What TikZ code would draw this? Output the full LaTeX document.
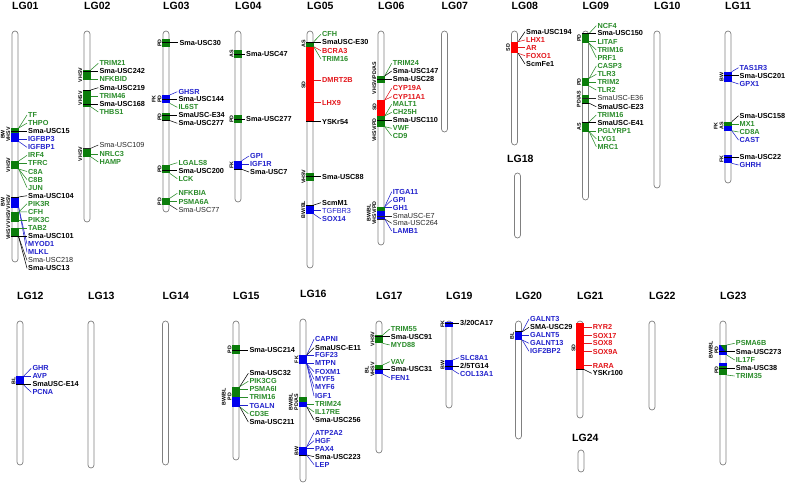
\documentclass[tikz,border=0pt]{standalone}
\usepackage{fontspec}
\setmainfont{Liberation Sans}
\definecolor{LGreen}{HTML}{2A8C2A}
\definecolor{BGreen}{HTML}{0B7D0B}
\definecolor{LBlue}{HTML}{2222CC}
\definecolor{BBlue}{HTML}{0000EE}
\definecolor{LRed}{HTML}{E3171C}
\definecolor{BRed}{HTML}{FF0000}
\definecolor{BarGray}{HTML}{808080}
\tikzset{
  barsh/.style={draw=BarGray, fill=white, line width=0.7pt, rounded corners=3pt, minimum width=6pt, inner sep=0pt, rectangle},
  title/.style={anchor=west, inner sep=0pt, font=\fontsize{10.5}{12}\selectfont\bfseries},
  lab/.style={anchor=west, inner sep=1pt, font=\fontsize{7.3}{8}\selectfont\bfseries},
  link/.style={line width=0.55pt},
  sidel/.style={rotate=90, anchor=south, inner sep=0.3pt, align=center, font=\fontsize{5.3}{5.6}\selectfont\bfseries},
  cg/.style={color=LGreen}, cb/.style={color=LBlue}, cr/.style={color=LRed}, ck/.style={color=black},
  ckn/.style={color=black!85, font=\fontsize{7.3}{8}\selectfont\mdseries},
  cbn/.style={color=LBlue, font=\fontsize{7.3}{8}\selectfont\mdseries},
}
\newcommand\chrom[6]{%
  \pgfmathsetmacro\hh{#4-#3}\pgfmathsetmacro\my{(#3+#4)/2}%
  \node[barsh, minimum height=\hh pt] (#1) at (#2,\my) {};
  \node[title] (#1t) at (#5,#6) {#1};}
\newcommand\blk[4]{%
  \pgfmathsetmacro\bx{#1+3.7}\pgfmathsetmacro\blx{#1-3.7}%
  \def\btop{#2}\def\bbot{#3}%
  \fill[#4] (\blx,#2) rectangle (\bx,#3);}
\newcommand\blp[4]{\fill[#4] ({#1-3.7},#2) rectangle ({#1+3.7},#3);}
\newcount\sidecount
\newcommand\sidelab[3]{\global\advance\sidecount by 1
  \node[sidel] (side\the\sidecount) at ({#1-4.2},#2) {#3};}
\newcommand\glab[5]{%
  \pgfmathsetmacro\sy{min(max(#3,\btop),\bbot)}%
  \node[lab,#4] (#1) at ({#2-1},#3) {#5};
  \coordinate (#1s) at (\bx,\sy);
  \draw[link,#4] (#1s) -- (#1.west);}
\newcommand\klab[5]{%
  \pgfmathsetmacro\sy{min(max(#3,\btop),\bbot)}%
  \pgfmathtruncatemacro\crs{abs(#3-\sy)<4.5 ? 1 : 0}%
  \node[lab,#4] (#1) at ({#2-1},#3) {#5};
  \coordinate (#1s) at (\bx,\sy);
  \coordinate (#1c) at (\blx,\sy);
  \ifnum\crs=1 \draw[link,#4] (#1c) -- (#1s);\fi
  \draw[link,#4] (#1s) -- (#1.west);}
\begin{document}
\begin{tikzpicture}[x=1pt,y=-1pt]
\fill[white] (0,0) rectangle (787,485);
\useasboundingbox (0,0) rectangle (787,485);
% chromosomes
\chrom{LG01}{15}{31}{262}{12}{6}
\chrom{LG02}{87}{31}{222}{84}{6}
\chrom{LG03}{166}{31}{212}{163}{6}
\chrom{LG04}{238}{31}{202}{235}{6}
\chrom{LG05}{310}{31}{268}{307}{6}
\chrom{LG06}{381}{31}{245}{378}{6}
\chrom{LG07}{444.5}{31}{132}{441.5}{6}
\chrom{LG08}{514.5}{31}{145}{511.5}{6}
\chrom{LG09}{585.5}{31}{200}{582.5}{6}
\chrom{LG10}{657}{31}{188}{654}{6}
\chrom{LG11}{728}{31}{183}{725}{6}
\chrom{LG18}{517.5}{173}{238}{507}{159}
\chrom{LG12}{20}{321}{465}{17}{296}
\chrom{LG13}{91}{321}{468}{88}{296}
\chrom{LG14}{165.5}{321}{465}{162.5}{296}
\chrom{LG15}{236}{321}{460}{233}{296}
\chrom{LG16}{303}{319}{482}{300}{294}
\chrom{LG17}{379}{321}{453}{376}{295.5}
\chrom{LG19}{449}{321}{408}{446}{295.5}
\chrom{LG20}{518.5}{321}{439}{515.5}{295.5}
\chrom{LG21}{580}{321}{418}{577}{296}
\chrom{LG22}{652}{321}{410}{649}{296}
\chrom{LG23}{723}{321}{465}{720}{296}
\chrom{LG24}{581}{450}{472}{572}{438}
% LG01
\blk{15}{128}{141.5}{BBlue}\blp{15}{128}{133}{BGreen}\sidelab{15}{134.5}{BW\\VHSV}
\glab{a1}{28}{115}{cg}{TF}
\glab{a2}{28}{123.1}{cg}{THPO}
\klab{a3}{28}{131.1}{ck}{Sma-USC15}
\glab{a4}{28}{139.2}{cb}{IGFBP3}
\glab{a5}{28}{147.3}{cb}{IGFBP1}
\blk{15}{161}{169}{BGreen}\sidelab{15}{165}{VHSV}
\glab{a6}{28}{155.4}{cg}{IRF4}
\glab{a7}{28}{163.4}{cg}{TFRC}
\glab{a8}{28}{171.5}{cg}{C8A}
\glab{a9}{28}{179.6}{cg}{C8B}
\glab{a10}{28}{187.6}{cg}{JUN}
\blk{15}{197}{207.5}{BBlue}\sidelab{15}{202}{BW\\VHSV}
\klab{a11}{28}{195.7}{ck}{Sma-USC104}
\glab{a17}{28}{244.1}{cb}{MYOD1}
\glab{a18}{28}{252.2}{cb}{MLKL}
\blk{15}{212}{222}{BGreen}\sidelab{15}{217}{VHSV}
\glab{a12}{28}{203.8}{cg}{PIK3R}
\glab{a13}{28}{211.8}{cg}{CFH}
\glab{a14}{28}{219.9}{cg}{PIK3C}
\blk{15}{228}{237}{BGreen}\sidelab{15}{232.5}{VHSV}
\glab{a15}{28}{228}{cg}{TAB2}
\klab{a16}{28}{236.1}{ck}{Sma-USC101}
\klab{a19}{28}{260.3}{ckn}{Sma-USC218}
\klab{a20}{28}{268.3}{ck}{Sma-USC13}
% LG02
\blk{87}{70}{80}{BGreen}\sidelab{87}{75}{VHSV}
\glab{b1}{99.3}{63.3}{cg}{TRIM21}
\klab{b2}{99.3}{71.3}{ck}{Sma-USC242}
\glab{b3}{99.3}{79.3}{cg}{NFKBID}
\blk{87}{90}{106.7}{BGreen}\sidelab{87}{98.3}{VHSV}
\klab{b4}{99.3}{87.7}{ck}{Sma-USC219}
\glab{b5}{99.3}{96}{cg}{TRIM46}
\klab{b6}{99.3}{104}{ck}{Sma-USC168}
\glab{b7}{99.3}{112}{cg}{THBS1}
\blk{87}{148.3}{156.7}{BGreen}\sidelab{87}{154}{VHSV}
\klab{b8}{99.3}{145}{ckn}{Sma-USC109}
\glab{b9}{99.3}{154}{cg}{NRLC3}
\glab{b10}{99.3}{162}{cg}{HAMP}
% LG03
\blk{166}{39.3}{46.7}{BGreen}\sidelab{166}{43}{PD}
\klab{c1}{179.3}{42.7}{ck}{Sma-USC30}
\blk{166}{95}{103.3}{BBlue}\sidelab{166}{99}{FK\\PD}
\glab{c2}{178.3}{91.7}{cb}{GHSR}
\klab{c3}{178.3}{99.3}{ck}{Sma-USC144}
\glab{c4}{178.3}{107.3}{cg}{IL6ST}
\blk{166}{113.3}{120.5}{BGreen}\sidelab{166}{117}{PD}
\klab{c5}{178.3}{115}{ck}{SmaUSC-E34}
\klab{c6}{178.3}{123.3}{ck}{Sma-USC277}
\blk{166}{165}{173.3}{BGreen}\sidelab{166}{169}{PD}
\glab{c7}{178.3}{162.7}{cg}{LGALS8}
\klab{c8}{178.3}{170.7}{ck}{Sma-USC200}
\glab{c9}{178.3}{178.7}{cg}{LCK}
\blk{166}{198.3}{205}{BGreen}\sidelab{166}{201.7}{PD}
\glab{c10}{178.3}{193.3}{cg}{NFKBIA}
\glab{c11}{178.3}{201.7}{cg}{PSMA6A}
\klab{c12}{178.3}{209.7}{ckn}{Sma-USC77}
% LG04
\blk{238}{50}{58.3}{BGreen}\sidelab{238}{54}{AS}
\klab{d1}{246}{54.3}{ck}{Sma-USC47}
\blk{238}{115}{123.3}{BGreen}\sidelab{238}{119}{PD}
\klab{d2}{246}{119}{ck}{Sma-USC277}
\blk{238}{160.7}{169.3}{BBlue}\sidelab{238}{165}{FK}
\glab{d3}{250}{156}{cb}{GPI}
\glab{d4}{250}{164}{cb}{IGF1R}
\klab{d5}{250}{172}{ck}{Sma-USC7}
% LG05
\blk{310}{46.7}{121.7}{BRed}\sidelab{310}{85}{SD}
\glab{e5}{322}{80}{cr}{DMRT2B}
\glab{e6}{322}{102.7}{cr}{LHX9}
\klab{e7}{322}{121.7}{ck}{YSKr54}
\blk{310}{41.7}{46.7}{BGreen}\sidelab{310}{44}{AS}
\glab{e1}{322}{34.3}{cg}{CFH}
\klab{e2}{322}{42.3}{ck}{SmaUSC-E30}
\glab{e3}{322}{50.7}{cr}{BCRA3}
\glab{e4}{322}{59}{cg}{TRIM16}
\blk{310}{172.7}{180.7}{BGreen}\sidelab{310}{176.7}{VHSV}
\klab{e8}{322}{176.7}{ck}{Sma-USC88}
\blk{310}{205}{214}{BBlue}\sidelab{310}{209.5}{BW/BL}
\klab{e9}{322}{202.7}{ck}{ScmM1}
\glab{e10}{322}{210.7}{cbn}{TGFBR3}
\glab{e11}{322}{219}{cb}{SOX14}
% LG06
\blk{381}{76}{83.3}{BGreen}\sidelab{381}{78}{VHSV/PD/AS}
\glab{f1}{392.7}{63.3}{cg}{TRIM24}
\klab{f2}{392.7}{71}{ck}{Sma-USC147}
\klab{f3}{392.7}{79.3}{ck}{Sma-USC28}
\blk{381}{100}{116}{BRed}\sidelab{381}{107}{SD}
\glab{f4}{392.7}{88.3}{cr}{CYP19A}
\glab{f5}{392.7}{96.7}{cr}{CYP11A1}
\blk{381}{116}{126.7}{BGreen}\sidelab{381}{130}{VHSV/PD}
\glab{f6}{392.7}{104.3}{cg}{MALT1}
\glab{f7}{392.7}{112.3}{cg}{CH25H}
\klab{f8}{392.7}{120}{ck}{Sma-USC110}
\glab{f9}{392.7}{128.3}{cg}{VWF}
\glab{f10}{392.7}{136}{cg}{CD9}
\blk{381}{206.7}{219}{BBlue}\blp{381}{206.7}{211}{BGreen}\sidelab{381}{213}{BW/BL\\VHSV/PD}
\glab{f11}{392.7}{191.7}{cb}{ITGA11}
\glab{f12}{392.7}{200}{cb}{GPI}
\glab{f13}{392.7}{207.7}{cb}{GH1}
\klab{f14}{392.7}{216}{ckn}{SmaUSC-E7}
\klab{f15}{392.7}{223.3}{ckn}{Sma-USC264}
\glab{f16}{392.7}{231}{cb}{LAMB1}
% LG08
\blk{514.5}{41.7}{53.3}{BRed}\sidelab{514.5}{47.5}{SD}
\klab{h1}{526}{31.7}{ck}{Sma-USC194}
\glab{h2}{526}{40}{cr}{LHX1}
\glab{h3}{526}{47.7}{cr}{AR}
\glab{h4}{526}{55.7}{cr}{FOXO1}
\klab{h5}{526}{64}{ck}{ScmFe1}
% LG09
\blk{585.5}{33.3}{43.3}{BGreen}\sidelab{585.5}{38}{PD}
\glab{i1}{597.3}{25.7}{cg}{NCF4}
\klab{i2}{597.3}{33.3}{ck}{Sma-USC150}
\glab{i3}{597.3}{41.7}{cg}{LITAF}
\glab{i4}{597.3}{50}{cg}{TRIM16}
\glab{i5}{597.3}{57.7}{cg}{PRF1}
\blk{585.5}{78.3}{86}{BGreen}\sidelab{585.5}{82}{PD}
\glab{i6}{597.3}{66}{cg}{CASP3}
\glab{i7}{597.3}{74.3}{cg}{TLR3}
\glab{i8}{597.3}{82}{cg}{TRIM2}
\glab{i9}{597.3}{90}{cg}{TLR2}
\blk{585.5}{95}{103.3}{BGreen}\sidelab{585.5}{99}{PD/AS}
\klab{i10}{597.3}{98.3}{ckn}{SmaUSC-E36}
\klab{i11}{597.3}{106.7}{ck}{SmaUSC-E23}
\blk{585.5}{121.7}{131.7}{BGreen}\sidelab{585.5}{126.7}{AS}
\glab{i12}{597.3}{115}{cg}{TRIM16}
\klab{i13}{597.3}{122.7}{ck}{SmaUSC-E41}
\glab{i14}{597.3}{131}{cg}{PGLYRP1}
\glab{i15}{597.3}{138.7}{cg}{LYG1}
\glab{i16}{597.3}{146.7}{cg}{MRC1}
% LG11
\blk{728}{71.7}{81.7}{BBlue}\sidelab{728}{76.7}{BW}
\glab{k1}{739.5}{67.7}{cb}{TAS1R3}
\klab{k2}{739.5}{75.7}{ck}{Sma-USC201}
\glab{k3}{739.5}{84}{cb}{GPX1}
\blk{728}{121.7}{130.7}{BBlue}\blp{728}{121.7}{125.5}{BGreen}\sidelab{728}{126}{FK\\AS}
\klab{k4}{739.5}{115.7}{ck}{Sma-USC158}
\glab{k5}{739.5}{124}{cg}{MX1}
\glab{k6}{739.5}{132}{cg}{CD8A}
\glab{k7}{739.5}{140}{cb}{CAST}
\blk{728}{155}{163.3}{BBlue}\sidelab{728}{159}{FK}
\klab{k8}{739.5}{157.3}{ck}{Sma-USC22}
\glab{k9}{739.5}{165}{cb}{GHRH}
% LG12
\blk{20}{376}{385}{BBlue}\sidelab{20}{380.5}{BL}
\glab{l1}{32.3}{368.3}{cb}{GHR}
\glab{l2}{32.3}{376}{cb}{AVP}
\klab{l3}{32.3}{384.3}{ck}{SmaUSC-E14}
\glab{l4}{32.3}{392.3}{cb}{PCNA}
% LG15
\blk{236}{345}{354}{BGreen}\sidelab{236}{349.5}{PD}
\klab{m1}{249.3}{350}{ck}{Sma-USC214}
\blk{236}{386.7}{406.7}{BBlue}\blp{236}{386.7}{397}{BGreen}\sidelab{236}{396.7}{BW/BL\\PD}
\klab{m2}{249.3}{373.3}{ck}{Sma-USC32}
\glab{m3}{249.3}{381.3}{cg}{PIK3CG}
\glab{m4}{249.3}{389.3}{cg}{PSMA6I}
\glab{m5}{249.3}{397.3}{cg}{TRIM16}
\glab{m6}{249.3}{405.7}{cb}{TGALN}
\glab{m7}{249.3}{413.7}{cg}{CD3E}
\klab{m8}{249.3}{422}{ck}{Sma-USC211}
% LG16
\blk{303}{355}{364}{BBlue}\sidelab{303}{359.5}{FK}
\glab{n1}{315}{339.3}{cb}{CAPNI}
\klab{n2}{315}{347.7}{ck}{SmaUSC-E11}
\glab{n3}{315}{355.3}{cb}{FGF23}
\glab{n4}{315}{363.3}{cb}{MTPN}
\glab{n5}{315}{371.7}{cb}{FOXM1}
\glab{n6}{315}{379.3}{cb}{MYF5}
\glab{n7}{315}{387.3}{cb}{MYF6}
\glab{n8}{315}{396}{cb}{IGF1}
\blk{303}{397.3}{406.7}{BBlue}\blp{303}{397.3}{402}{BGreen}\sidelab{303}{402}{BW/BL\\PD/AS}
\glab{n9}{315}{404}{cg}{TRIM24}
\glab{n10}{315}{412}{cg}{IL17RE}
\klab{n11}{315}{420}{ck}{Sma-USC256}
\blk{303}{446.7}{455}{BBlue}\sidelab{303}{451}{BW}
\glab{n12}{315}{432.7}{cb}{ATP2A2}
\glab{n13}{315}{440.7}{cb}{HGF}
\glab{n14}{315}{448.7}{cb}{PAX4}
\klab{n15}{315}{456.7}{ck}{Sma-USC223}
\glab{n16}{315}{464.7}{cb}{LEP}
% LG17
\blk{379}{335}{343.3}{BGreen}\sidelab{379}{339}{VHSV}
\glab{o1}{390.7}{329}{cg}{TRIM55}
\klab{o2}{390.7}{336.7}{ck}{Sma-USC91}
\glab{o3}{390.7}{345}{cg}{MYD88}
\blk{379}{365}{374}{BBlue}\blp{379}{365}{369}{BGreen}\sidelab{379}{369.5}{BL\\VHSV}
\glab{o4}{390.7}{361.7}{cg}{VAV}
\klab{o5}{390.7}{369.3}{ck}{Sma-USC31}
\glab{o6}{390.7}{377.7}{cb}{FEN1}
% LG19
\blk{449}{321.5}{327.3}{BBlue}\sidelab{449}{324}{FK}
\klab{p1}{460}{323.3}{ck}{3/20CA17}
\blk{449}{360}{370}{BBlue}\sidelab{449}{365}{BW}
\glab{p2}{460}{357.7}{cb}{SLC8A1}
\klab{p3}{460}{366}{ck}{2/5TG14}
\glab{p4}{460}{374}{cb}{COL13A1}
% LG20
\blk{518.5}{331.7}{340}{BBlue}\sidelab{518.5}{336}{BL}
\glab{q1}{530}{319}{cb}{GALNT3}
\klab{q2}{530}{327.3}{ck}{SMA-USC29}
\glab{q3}{530}{335}{cb}{GALNT5}
\glab{q4}{530}{343.3}{cb}{GALNT13}
\glab{q5}{530}{351.3}{cb}{IGF2BP2}
% LG21
\blk{580}{323}{369.3}{BRed}\sidelab{580}{348}{SD}
\glab{r1}{592.7}{327.3}{cr}{RYR2}
\glab{r2}{592.7}{335.7}{cr}{SOX17}
\glab{r3}{592.7}{343.3}{cr}{SOX8}
\glab{r4}{592.7}{351.7}{cr}{SOX9A}
\glab{r5}{592.7}{365.7}{cr}{RARA}
\klab{r6}{592.7}{373.3}{ck}{YSKr100}
% LG23
\blk{723}{345}{355}{BBlue}
\fill[BGreen] (726.7,345) -- (726.7,353) -- (720.5,345) -- cycle;
\sidelab{723}{350}{BW/BL\\PD}
\glab{s1}{735.7}{343.3}{cg}{PSMA6B}
\klab{s2}{735.7}{351.7}{ck}{Sma-USC273}
\glab{s3}{735.7}{360}{cg}{IL17F}
\blp{723}{363.3}{365.5}{BBlue}
\blk{723}{366}{375}{BGreen}\sidelab{723}{370}{PD}
\klab{s4}{735.7}{368.3}{ck}{Sma-USC38}
\glab{s5}{735.7}{376}{cg}{TRIM35}
\end{tikzpicture}
\end{document}
